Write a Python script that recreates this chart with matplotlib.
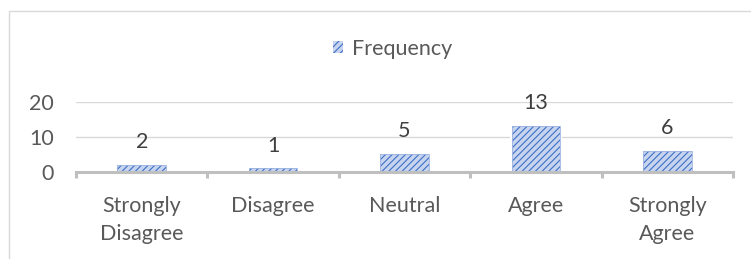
import numpy as np
import matplotlib
matplotlib.use('Agg')
import matplotlib.pyplot as plt
import matplotlib.patches as mpatches

plt.rcParams.update({
    'font.family': ['Lato', 'DejaVu Sans'],
    'hatch.linewidth': 0.8,
})

# ── Data ──────────────────────────────────────────────────────────────────────
categories = ['Strongly\nDisagree', 'Disagree', 'Neutral', 'Agree', 'Strongly\nAgree']
frequency  = [2, 1, 5, 13, 6]
y_ticks    = [0, 10, 20]

FACE  = '#c6d4ef'
HATCH = '#3f6fc6'
EDGE  = '#9db4e0'
TEXT  = '#595959'
GRID  = '#d9d9d9'
AXIS  = '#bfbfbf'
FS    = 15.5

# ── Figure ────────────────────────────────────────────────────────────────────
W, H = 751, 259
fig = plt.figure(figsize=(W / 100, H / 100), dpi=100)

# outer chart border (cut off at right and bottom as in the source)
fig.patches.append(mpatches.Rectangle((8.5 / W, -0.1), 1.2, 1.1 - 11.5 / H,
                                      transform=fig.transFigure, fill=False,
                                      edgecolor=GRID, linewidth=1.0))

left, right = 76 / W, 733 / W
bottom, top = (H - 172) / H, (H - 101.5) / H
ax = fig.add_axes([left, bottom, right - left, top - bottom])

x = np.arange(len(categories))
ax.set_xlim(-0.5, len(categories) - 0.5)
ax.set_ylim(0, 20)

# white halo behind bars (breaks the gridlines like the original)
ax.bar(x, frequency, width=0.40, color='white', linewidth=0, zorder=2)
ax.bar(x, frequency, width=0.37, color=FACE, linewidth=0, zorder=3)
ax.bar(x, frequency, width=0.37, color='none', edgecolor=HATCH, hatch='/////',
       linewidth=0, zorder=4)
ax.bar(x, frequency, width=0.37, color='none', edgecolor=EDGE,
       linewidth=0.6, zorder=5)

for xi, v in zip(x, frequency):
    ax.annotate(str(v), (xi, v), xytext=(0, 16.5), textcoords='offset points',
                ha='center', va='center', fontsize=FS, color='#404040',
                annotation_clip=False, zorder=6)

# axes styling
for s in ['top', 'right', 'left']:
    ax.spines[s].set_visible(False)
ax.spines['bottom'].set_color(AXIS)
ax.spines['bottom'].set_linewidth(2.2)
ax.spines['bottom'].set_zorder(7)

ax.set_yticks(y_ticks)
ax.set_yticklabels([str(t) for t in y_ticks])
ax.tick_params(axis='y', length=0, pad=16, labelsize=FS, labelcolor=TEXT)
ax.yaxis.grid(True, color=GRID, linewidth=1.0)
ax.set_axisbelow(True)

ax.set_xticks(x)
ax.set_xticklabels(categories, linespacing=1.5)
ax.tick_params(axis='x', which='major', length=0, pad=17, labelsize=FS,
               labelcolor=TEXT)
ax.set_xticks(np.arange(len(categories) + 1) - 0.5, minor=True)
ax.tick_params(axis='x', which='minor', length=4.5, width=2.2, color=AXIS)

# legend
handle = mpatches.Patch(facecolor=FACE, edgecolor=HATCH, hatch='/////',
                        linewidth=0)
fig.legend([handle], ['Frequency'], loc='center', bbox_to_anchor=(0.523, 0.811),
           frameon=False, fontsize=FS, labelcolor=TEXT, handlelength=0.45,
           handleheight=0.45, handletextpad=0.4)

fig.savefig('out.png', dpi=100)
